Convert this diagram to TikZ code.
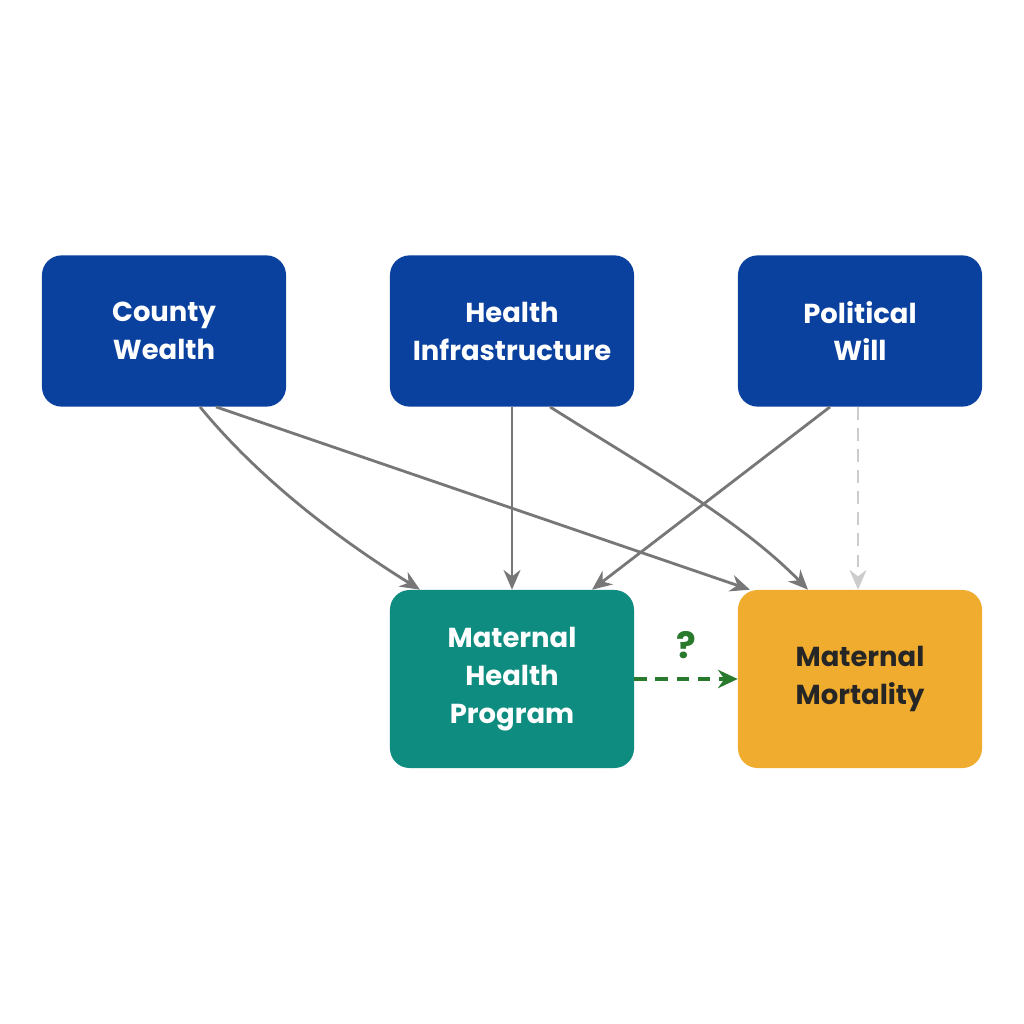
\documentclass[tikz,border=0pt]{standalone}
\usepackage{fontspec}
\setmainfont{Poppins}
\usetikzlibrary{arrows.meta}
\definecolor{boxblue}{HTML}{0A409E}
\definecolor{boxteal}{HTML}{0E8C7F}
\definecolor{boxgold}{HTML}{F0AC2E}
\definecolor{arrgray}{HTML}{777777}
\definecolor{arrgreen}{HTML}{2A7A2E}
\begin{document}
\begin{tikzpicture}[x=0.025cm,y=-0.025cm,
  box/.style={rounded corners=14pt,minimum width=6.1cm,align=center,
    font=\fontsize{19.5}{27}\selectfont\bfseries,text=white},
  link/.style={draw=arrgray,line width=2pt,-{Stealth[length=14pt,width=12pt]}}]
\useasboundingbox[fill=white] (0,0) rectangle (1024,1024);

\node[box,fill=boxblue,minimum height=3.78cm] (wealth) at (164,331) {County\\Wealth};
\node[box,fill=boxblue,minimum height=3.78cm] (infra) at (512,331) {Health\\Infrastructure};
\node[box,fill=boxblue,minimum height=3.78cm] (will) at (860,331) {Political\\Will};
\node[box,fill=boxteal,minimum height=4.45cm] (prog) at (512,679) {Maternal\\Health\\Program};
\node[box,fill=boxgold,minimum height=4.45cm,text=black!85] (mort) at (860,679) {Maternal\\Mortality};

\draw[link] ([xshift=0.9cm]wealth.south) .. controls (260,480) and (340,540) .. ([xshift=-2.3cm]prog.north);
\draw[link] ([xshift=1.3cm]wealth.south) -- ([xshift=-2.75cm]mort.north);
\draw[link] (infra.south) -- (prog.north);
\draw[link] ([xshift=0.95cm]infra.south) .. controls (650,470) and (740,520) .. ([xshift=-1.3cm]mort.north);
\draw[link] ([xshift=-0.75cm]will.south) -- ([xshift=2cm]prog.north);
\draw[link,draw=black!20,dash pattern=on 9pt off 6pt] ([xshift=-0.05cm]will.south) -- ([xshift=-0.05cm]mort.north);
\draw[line width=2.5pt,draw=arrgreen,dash pattern=on 9pt off 6pt,-{Stealth[length=14pt,width=13pt]}] (prog.east) -- node[above=10pt,text=arrgreen,font=\fontsize{26}{30}\selectfont\bfseries] (q) {?} (mort.west);
\end{tikzpicture}
\end{document}
